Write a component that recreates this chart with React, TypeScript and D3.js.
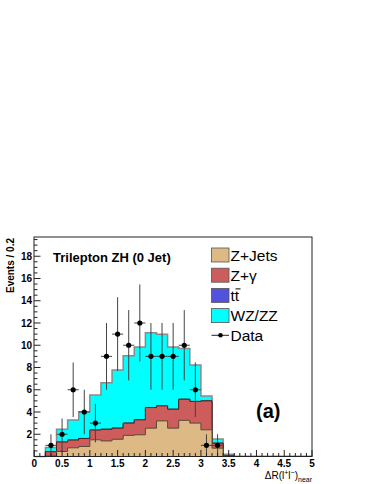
import React from 'react';
import * as d3 from 'd3';

// bin lower edges, width 0.2
const binEdges = d3.range(25).map(i => +(i * 0.2).toFixed(1));
const binWidth = 0.2;

// stacked backgrounds (per bin)
const zJets = [0, 0.05, 0.45, 0.78, 0.9, 1.5, 1.4, 1.55, 1.9, 1.95, 2.55, 3.2, 2.55, 3.25, 3.0, 2.4, 0.75, 0.03, 0, 0, 0, 0, 0, 0, 0];
const zGamma = [0, 0.38, 0.85, 0.7, 0.72, 0.88, 1.05, 1.0, 1.1, 1.35, 1.85, 1.35, 1.7, 1.9, 1.95, 2.6, 0.45, 0.03, 0, 0, 0, 0, 0, 0, 0];
const ttbar = [0, 0, 0, 0, 0, 0, 0, 0, 0, 0, 0, 0, 0, 0, 0, 0, 0, 0, 0, 0, 0, 0, 0, 0, 0];
const wzzz = [0, 0.37, 1.14, 1.8, 2.41, 3.15, 4.19, 5.23, 6.06, 6.54, 6.73, 6.43, 5.59, 4.55, 3.27, 0.44, 0.37, 0.14, 0.03, 0.02, 0.02, 0.02, 0.02, 0.02, 0.02];
const dataCounts = [0, 1, 2, 6, 4, 3, 9, 11, 10, 12, 9, 9, 9, 10, 6, 1, 1, 0, 0, 0, 0, 0, 0, 0, 0];

const yTicks = [2, 4, 6, 8, 10, 12, 14, 16, 18];
const xTicks = [0, 0.5, 1, 1.5, 2, 2.5, 3, 3.5, 4, 4.5, 5];

const layers = [
  { name: 'Z+Jets', values: zJets, fill: '#dcb985', stroke: '#5a4a35', width: 1 },
  { name: 'Z+γ', values: zGamma, fill: '#cd5c5c', stroke: '#4a2525', width: 1 },
  { name: 'tt', values: ttbar, fill: '#5252dc', stroke: '#333', width: 1 },
  { name: 'WZ/ZZ', values: wzzz, fill: '#00ffff', stroke: '#8a8a8a', width: 1.5 },
];

const W = 374;
const H = 484;
const left = 34, right = 312, top = 237, bottom = 456.5;

export default function App() {
  const x = d3.scaleLinear().domain([0, 5]).range([left + 0.3, right]);
  const y = d3.scaleLinear().domain([0, 19.73]).range([bottom, top]);

  // cumulative tops
  const cum: number[][] = [];
  layers.forEach((l, li) => {
    cum.push(l.values.map((v, i) => v + (li > 0 ? cum[li - 1][i] : 0)));
  });

  const stepPts = (vals: number[]) => {
    const pts = binEdges.map((e, i) => [e, vals[i]] as [number, number]);
    pts.push([5, vals[vals.length - 1]]);
    return pts;
  };

  const area = d3.area<[number, number]>()
    .x(d => x(d[0]))
    .y0(y(0))
    .y1(d => y(d[1]))
    .curve(d3.curveStepAfter);
  const line = d3.line<[number, number]>()
    .x(d => x(d[0]))
    .y(d => y(d[1]))
    .curve(d3.curveStepAfter);

  const minorY = d3.range(0, 19.71, 0.5);
  const minorX = d3.range(0, 5.001, 0.1);

  const legendItems = [
    { label: 'Z+Jets', fill: layers[0].fill },
    { label: 'Z+γ', fill: layers[1].fill },
    { label: 'tt', fill: layers[2].fill },
    { label: 'WZ/ZZ', fill: layers[3].fill },
  ];
  const legX = 211.5;
  const legY0 = 255;
  const legDy = 20.2;

  const font = '"Liberation Sans", Arial, Helvetica, sans-serif';

  return (
    <svg width={W} height={H} style={{ position: 'absolute', left: 0, top: 0, background: '#fff' }} fontFamily={font}>
      <rect x={0} y={0} width={W} height={H} fill="#fff" />
      {/* stacked histograms, drawn from total down */}
      {layers.map((l, li) => li).reverse().map(li => (
        <g key={li}>
          <path d={area(stepPts(cum[li])) || ''} fill={layers[li].fill} />
          <path d={line(stepPts(cum[li])) || ''} fill="none" stroke={layers[li].stroke} strokeWidth={layers[li].width} />
        </g>
      ))}

      {/* data with errors */}
      {dataCounts.map((n, i) => {
        if (n <= 0) return null;
        const cx = x(binEdges[i] + binWidth / 2);
        const err = Math.sqrt(n);
        return (
          <g key={i}>
            <line x1={cx} x2={cx} y1={y(n - err)} y2={y(n + err)} stroke="#444" strokeWidth={1} />
            <line x1={x(binEdges[i])} x2={x(binEdges[i] + binWidth)} y1={y(n)} y2={y(n)} stroke="#444" strokeWidth={1} />
            <circle cx={cx} cy={y(n)} r={2.6} fill="#000" />
          </g>
        );
      })}

      {/* frame */}
      <rect x={left} y={top} width={right - left} height={bottom - top} fill="none" stroke="#222" strokeWidth={1} />

      {/* y ticks */}
      {minorY.map(v => {
        const major = Math.abs(v % 2) < 1e-6;
        return <line key={'ym' + v} x1={left} x2={left + (major ? 6.5 : 3.5)} y1={y(v)} y2={y(v)} stroke="#222" strokeWidth={1} />;
      })}
      {yTicks.map(v => (
        <text key={'yt' + v} x={32} y={y(v) + 3.6} textAnchor="end" fontSize={10} fontWeight="bold">{v}</text>
      ))}

      {/* x ticks */}
      {minorX.map((v, i) => {
        const major = i % 5 === 0;
        return <line key={'xm' + i} x1={x(v)} x2={x(v)} y1={bottom} y2={bottom - (major ? 6.5 : 3.5)} stroke="#222" strokeWidth={1} />;
      })}
      {xTicks.map(v => (
        <text key={'xt' + v} x={x(v)} y={466.5} textAnchor="middle" fontSize={10} fontWeight="bold">{v}</text>
      ))}

      {/* axis titles */}
      <text transform={`translate(14,238) rotate(-90)`} textAnchor="end" fontSize={10} fontWeight="bold">Events / 0.2</text>
      <text x={right} y={479} textAnchor="end" fontSize={10}>
        ΔR(l<tspan dy={-4} fontSize={7}>+</tspan><tspan dy={4}>l</tspan><tspan dy={-4} fontSize={7}>−</tspan><tspan dy={4}>)</tspan><tspan dy={2.5} fontSize={7}>near</tspan>
      </text>

      {/* title and label */}
      <text x={53} y={262} fontSize={13} fontWeight="bold">Trilepton ZH (0 Jet)</text>
      <text x={256} y={418} fontSize={20} fontWeight="bold">(a)</text>

      {/* legend */}
      {legendItems.map((it, i) => {
        const cy = legY0 + i * legDy;
        return (
          <g key={it.label}>
            <rect x={legX} y={cy - 7} width={17.5} height={14} fill={it.fill} stroke="#555" strokeWidth={0.8} />
            <text x={230.5} y={cy + 5.5} fontSize={15.5}>{it.label}</text>
            {it.label === 'tt' && (
              <line x1={235.5} x2={240.5} y1={cy - 6.5} y2={cy - 6.5} stroke="#000" strokeWidth={1} />
            )}
          </g>
        );
      })}
      <g>
        <line x1={legX} x2={legX + 17.5} y1={legY0 + 4 * legDy - 0.5} y2={legY0 + 4 * legDy - 0.5} stroke="#222" strokeWidth={1} />
        <circle cx={legX + 9} cy={legY0 + 4 * legDy - 0.5} r={2.3} fill="#000" />
        <text x={230.5} y={legY0 + 4 * legDy + 5} fontSize={15.5}>Data</text>
      </g>
    </svg>
  );
}
